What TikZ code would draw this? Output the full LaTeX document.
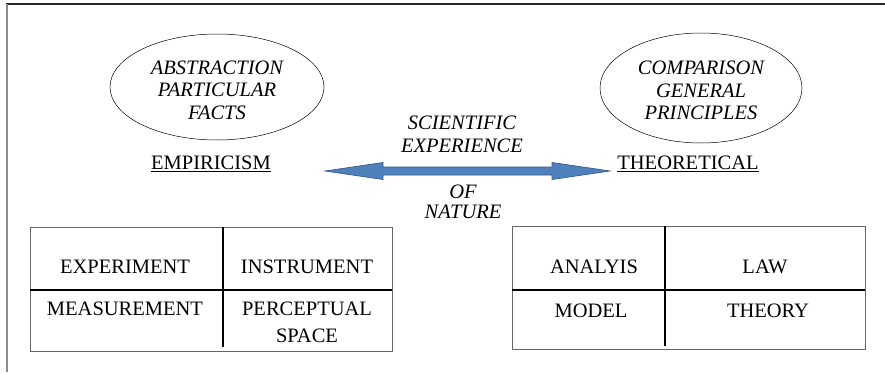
\documentclass[tikz,border=0pt]{standalone}
\usepackage{fontspec}
\setmainfont{Liberation Serif}
\usetikzlibrary{shapes.geometric}

\definecolor{arrowblue}{HTML}{4F81BD}
\definecolor{arrowedge}{HTML}{385D8A}

\begin{document}
\begin{tikzpicture}[
        x = 1pt, 
        y = -1pt, 
        txt/.style = {inner sep = 0pt, align = center, font = \fontsize{20.5}{22}\selectfont},
        itxt/.style = {txt, font = \fontsize{20.5}{22.5}\selectfont\itshape},
        idea/.style = {draw, ellipse, inner sep = 0pt, line width = 0.5pt},
        cellrule/.style = {line width = 1.3pt, black},
        cellframe/.style = {line width = 0.6pt, black!60}
    ]
        \useasboundingbox (0,0) rectangle (885,372);
        % page frame (top and left edges only)
        \draw[line width = 1.4pt, black!85] (6,4) -- (885,4);
        \draw[line width = 2pt, black!45] (7,4) -- (7,372);

        % the two ellipses and their headings
        \node[idea, minimum width = 214pt, minimum height = 106pt] (abstr) at (217,87) {};
        \node[itxt] (abstrtxt) at (217,90) {ABSTRACTION\\PARTICULAR\\FACTS};
        \node[idea, minimum width = 202pt, minimum height = 110pt] (compar) at (701,88) {};
        \node[itxt] (compartxt) at (701,90.5) {COMPARISON\\GENERAL\\PRINCIPLES};
        \node[txt] (empir) at (211,164) {\underline{EMPIRICISM}};
        \node[txt] (theor) at (688,164) {\underline{THEORETICAL}};

        % block arrow between the headings
        \draw[fill = arrowblue, draw = arrowedge, line width = 0.7pt] (325,171) -- (383,162.5) -- (383,167) -- (552,167) -- (552,162.5) -- (610,171) -- (552,179.5) -- (552,175) -- (383,175) -- (383,179.5) -- cycle;
        \node[itxt] (scexp) at (462,134.5) {SCIENTIFIC\\EXPERIENCE};
        \node[itxt, font = \fontsize{20.5}{20}\selectfont\itshape] (ofnat) at (463,202) {OF\\NATURE};

        % left table
        \draw[cellframe] (30,227) rectangle (392,351);
        \draw[cellrule] (30,290) -- (392,290);
        \draw[cellrule] (223,227) -- (223,347);
        \node[txt] (exper) at (125,267) {EXPERIMENT};
        \node[txt] (instr) at (307,267) {INSTRUMENT};
        \node[txt] (measu) at (125,309) {MEASUREMENT};
        \node[txt, font = \fontsize{20.5}{27}\selectfont] (percep) at (307,322) {PERCEPTUAL\\SPACE};

        % right table
        \draw[cellframe] (512,226) rectangle (865,349);
        \draw[cellrule] (512,290) -- (865,290);
        \draw[cellrule] (665,226) -- (665,346);
        \node[txt] (analy) at (594,267) {ANALYIS};
        \node[txt] (law) at (765,267) {LAW};
        \node[txt] (model) at (591,311) {MODEL};
        \node[txt] (theory) at (768,311) {THEORY};
    \end{tikzpicture}
\end{document}
